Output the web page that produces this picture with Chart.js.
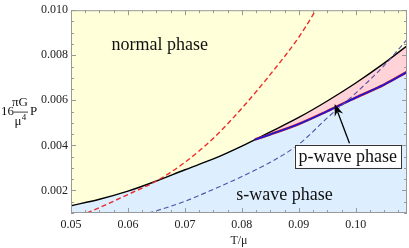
<!DOCTYPE html>
<html>
<head>
<meta charset="utf-8">
<script src="https://cdn.jsdelivr.net/npm/chart.js@4"></script>
<style>
  body { margin: 0; background: #fff; }
  canvas { display: block; }
</style>
</head>
<body>
<canvas id="chart" width="409" height="248"></canvas>
<script>
// tick labels
var xTicks = [0.05, 0.06, 0.07, 0.08, 0.09, 0.10];
var yTicks = [0.002, 0.004, 0.006, 0.008, 0.010];

// normal / superconducting boundary (solid black)
var blackX = [0.050, 0.055, 0.060, 0.065, 0.070, 0.075, 0.080, 0.0823, 0.085, 0.090, 0.095, 0.100, 0.105, 0.109];
var blackY = [0.00132, 0.00161, 0.00197, 0.00242, 0.00292, 0.00340, 0.00397, 0.00426, 0.00460, 0.00524, 0.00597, 0.00677, 0.00765, 0.00842];

// s-wave / p-wave boundary (solid blue)
var pwaveX = [0.0823, 0.085, 0.090, 0.095, 0.100, 0.105, 0.109];
var pwaveY = [0.00426, 0.00449, 0.00495, 0.00552, 0.00612, 0.00670, 0.00726];

// dashed red
var redX = [0.0528, 0.055, 0.060, 0.065, 0.070, 0.075, 0.080, 0.085, 0.090, 0.093];
var redY = [0.00100, 0.00124, 0.00182, 0.00242, 0.00325, 0.00432, 0.00565, 0.00715, 0.00880, 0.01000];

// dashed blue
var bluedX = [0.0636, 0.065, 0.070, 0.075, 0.080, 0.085, 0.090, 0.095, 0.100, 0.105, 0.109];
var bluedY = [0.00100, 0.00110, 0.00152, 0.00205, 0.00262, 0.00325, 0.00405, 0.00522, 0.00632, 0.00755, 0.00870];

// text labels (data coordinates)
var normalLabel = { text: 'normal phase', x: 0.0656, y: 0.00845 };
var swaveLabel = { text: 's-wave phase', x: 0.0875, y: 0.00180 };
var pwaveLabel = { text: 'p-wave phase', x: 0.0986, y: 0.00352, tipX: 0.0963, tipY: 0.00584, tailX: 0.0989, tailY: 0.00410 };

var SERIF = '"Liberation Serif", "DejaVu Serif", serif';

function points(xs, ys) {
    var out = [];
    for (var i = 0; i < xs.length; i++) {
        out.push({ x: xs[i], y: ys[i] });
    }
    return out;
}

// lower edge of the normal phase -> s-wave below it
var sBoundary = [];
for (var i = 0; i < blackX.length; i++) {
    if (blackX[i] < pwaveX[0]) sBoundary.push({ x: blackX[i], y: blackY[i] });
}
sBoundary = sBoundary.concat(points(pwaveX, pwaveY));

var framePlugin = {
    id: 'frame',
    beforeDraw: function(chart) {
        var ctx = chart.ctx, a = chart.chartArea;
        ctx.save();
        ctx.fillStyle = '#ffffd9';
        ctx.fillRect(a.left, a.top, a.right - a.left, a.bottom - a.top);
        ctx.restore();
    },
    afterDatasetsDraw: function(chart) {
        var ctx = chart.ctx, a = chart.chartArea;
        var xs = chart.scales.x, ys = chart.scales.y;

        // labels inside the plot
        ctx.save();
        ctx.fillStyle = '#111';
        ctx.font = '18px ' + SERIF;
        ctx.textAlign = 'center';
        ctx.textBaseline = 'middle';
        [normalLabel, swaveLabel].forEach(function(l) {
            ctx.fillText(l.text, xs.getPixelForValue(l.x), ys.getPixelForValue(l.y));
        });

        // p-wave box + arrow
        var tx = xs.getPixelForValue(pwaveLabel.tipX), ty = ys.getPixelForValue(pwaveLabel.tipY);
        var sx = xs.getPixelForValue(pwaveLabel.tailX), sy = ys.getPixelForValue(pwaveLabel.tailY);
        var ang = Math.atan2(ty - sy, tx - sx);
        ctx.strokeStyle = '#000';
        ctx.lineWidth = 1.3;
        ctx.beginPath();
        ctx.moveTo(sx, sy);
        ctx.lineTo(tx - 8 * Math.cos(ang), ty - 8 * Math.sin(ang));
        ctx.stroke();
        ctx.beginPath();
        ctx.moveTo(tx, ty);
        ctx.lineTo(tx - 12 * Math.cos(ang) + 4.5 * Math.sin(ang), ty - 12 * Math.sin(ang) - 4.5 * Math.cos(ang));
        ctx.lineTo(tx - 8 * Math.cos(ang), ty - 8 * Math.sin(ang));
        ctx.lineTo(tx - 12 * Math.cos(ang) - 4.5 * Math.sin(ang), ty - 12 * Math.sin(ang) + 4.5 * Math.cos(ang));
        ctx.closePath();
        ctx.fillStyle = '#000';
        ctx.fill();

        var cx = xs.getPixelForValue(pwaveLabel.x), cy = ys.getPixelForValue(pwaveLabel.y);
        var w = ctx.measureText(pwaveLabel.text).width + 8, h = 23;
        ctx.fillStyle = '#ffffff';
        ctx.fillRect(cx - w / 2, cy - h / 2, w, h);
        ctx.strokeStyle = '#333';
        ctx.lineWidth = 1;
        ctx.strokeRect(Math.round(cx - w / 2) + 0.5, Math.round(cy - h / 2) + 0.5, Math.round(w), h);
        ctx.fillStyle = '#111';
        ctx.fillText(pwaveLabel.text, cx, cy + 1);
        ctx.restore();

        // frame and inward ticks on all four sides
        ctx.save();
        ctx.strokeStyle = '#999';
        ctx.lineWidth = 1;
        ctx.strokeRect(a.left + 0.5, a.top + 0.5, a.right - a.left - 1, a.bottom - a.top - 1);
        ctx.beginPath();
        for (var i = 0; ; i++) {
            var v = 0.05 + i * 0.0025;
            if (v > xs.max + 1e-9) break;
            var px = Math.round(xs.getPixelForValue(v)) + 0.5;
            var len = (i % 4 === 0) ? 5 : 3;
            ctx.moveTo(px, a.bottom); ctx.lineTo(px, a.bottom - len);
            ctx.moveTo(px, a.top); ctx.lineTo(px, a.top + len);
        }
        for (var j = 0; ; j++) {
            var vy = 0.001 + j * 0.0005;
            if (vy > ys.max + 1e-9) break;
            var py = Math.round(ys.getPixelForValue(vy)) + 0.5;
            var leny = (j % 4 === 2) ? 5 : 3;
            ctx.moveTo(a.left, py); ctx.lineTo(a.left + leny, py);
            ctx.moveTo(a.right, py); ctx.lineTo(a.right - leny, py);
        }
        ctx.stroke();
        ctx.restore();

        // y axis label: 16 (πG / μ^4) P
        var my = (a.top + a.bottom) / 2;
        ctx.save();
        ctx.fillStyle = '#111';
        ctx.font = '13px ' + SERIF;
        ctx.textBaseline = 'middle';
        ctx.textAlign = 'left';
        ctx.fillText('16', 1, my);
        ctx.textAlign = 'center';
        ctx.fillText('\u03c0G', 20, my - 9);
        ctx.fillText('\u03bc', 18, my + 10);
        ctx.font = '9px ' + SERIF;
        ctx.fillText('4', 24, my + 6);
        ctx.strokeStyle = '#111';
        ctx.lineWidth = 0.8;
        ctx.beginPath();
        ctx.moveTo(14, my + 0.5); ctx.lineTo(28, my + 0.5);
        ctx.stroke();
        ctx.font = '13px ' + SERIF;
        ctx.textAlign = 'left';
        ctx.fillText('P', 30, my);
        ctx.restore();
    }
};

new Chart(document.getElementById('chart'), {
    type: 'line',
    data: {
        datasets: [
            {
                data: points(redX, redY),
                borderColor: '#ee2a2a',
                borderWidth: 1.4,
                borderDash: [5, 3],
                pointRadius: 0,
                fill: false,
                cubicInterpolationMode: 'monotone',
                order: 1
            },
            {
                data: points(bluedX, bluedY),
                borderColor: '#5050a8',
                borderWidth: 1.1,
                borderDash: [5, 3],
                pointRadius: 0,
                fill: false,
                cubicInterpolationMode: 'monotone',
                order: 1
            },
            {
                data: points(pwaveX, pwaveY),
                borderColor: '#1818d8',
                borderWidth: 1.7,
                pointRadius: 0,
                fill: false,
                cubicInterpolationMode: 'monotone',
                order: 2
            },
            {
                data: points(pwaveX, pwaveY),
                borderColor: '#e02020',
                borderWidth: 2.6,
                pointRadius: 0,
                fill: false,
                cubicInterpolationMode: 'monotone',
                order: 3
            },
            {
                data: sBoundary,
                borderWidth: 0,
                borderColor: 'rgba(0,0,0,0)',
                backgroundColor: '#ddeeff',
                pointRadius: 0,
                fill: 'start',
                cubicInterpolationMode: 'monotone',
                order: 4
            },
            {
                data: points(blackX, blackY),
                borderColor: '#000',
                borderWidth: 1.4,
                backgroundColor: '#ffd3d8',
                pointRadius: 0,
                fill: 'start',
                cubicInterpolationMode: 'monotone',
                order: 5
            }
        ]
    },
    options: {
        responsive: false,
        animation: false,
        layout: { padding: { top: 5, right: 2, left: 0, bottom: 0 } },
        plugins: {
            legend: { display: false },
            tooltip: { enabled: false },
            filler: { drawTime: 'beforeDatasetsDraw' }
        },
        scales: {
            x: {
                type: 'linear',
                min: 0.05,
                max: 0.109,
                afterBuildTicks: function(s) { s.ticks = xTicks.map(function(v) { return { value: v }; }); },
                afterFit: function(s) { s.height = 35; },
                grid: { display: false, drawTicks: false },
                border: { display: false },
                ticks: {
                    padding: 5,
                    color: '#222',
                    font: { family: SERIF, size: 12 },
                    maxRotation: 0,
                    callback: function(v) { return v.toFixed(2); }
                },
                title: {
                    display: true,
                    text: 'T/\u03bc',
                    color: '#222',
                    font: { family: SERIF, size: 12 },
                    padding: { top: 0, bottom: 0 }
                }
            },
            y: {
                min: 0.001,
                max: 0.010,
                afterBuildTicks: function(s) { s.ticks = yTicks.map(function(v) { return { value: v }; }); },
                afterFit: function(s) { s.width = 71; },
                grid: { display: false, drawTicks: false },
                border: { display: false },
                ticks: {
                    padding: 3,
                    color: '#222',
                    font: { family: SERIF, size: 12 },
                    callback: function(v) { return v.toFixed(3); }
                }
            }
        }
    },
    plugins: [framePlugin]
});
</script>
</body>
</html>
